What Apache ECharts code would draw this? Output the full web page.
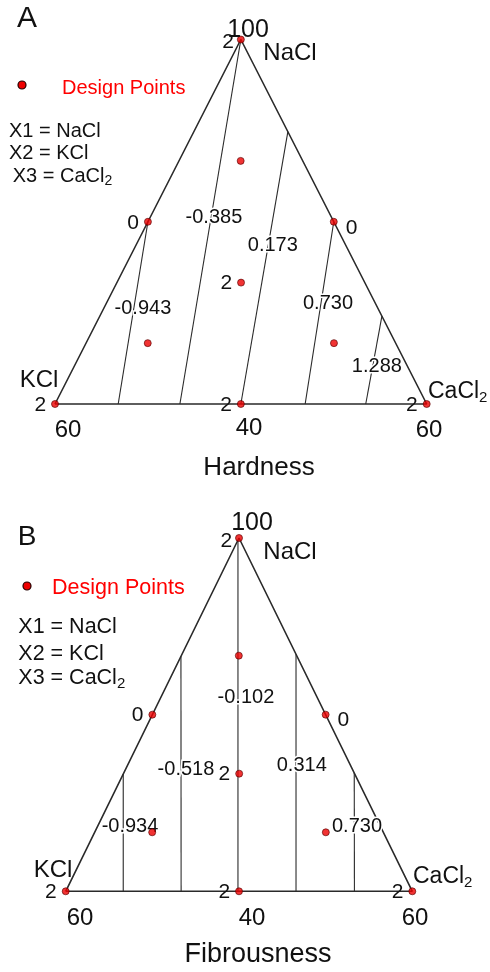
<!DOCTYPE html>
<html><head><meta charset="utf-8">
<script src="https://cdn.jsdelivr.net/npm/echarts@6/dist/echarts.min.js"></script>
<style>html,body{margin:0;padding:0;background:#fff}#c{width:490px;height:972px}</style>
</head><body><div id="c"></div>
<script>
// Mixture components (ternary order: NaCl = X1, KCl = X2, CaCl2 = X3)
const components = ['NaCl', 'KCl', 'CaCl2'];
const panelLetters = ['A', 'B'];
const responseNames = ['Hardness', 'Fibrousness'];
const vertexTicks = ['100', '60', '40', '60'];

// Design points (fractions NaCl, KCl, CaCl2) and their replicate-count labels
const designPoints = [
  [1, 0, 0], [0, 1, 0], [0, 0, 1],
  [0.5, 0.5, 0], [0.5, 0, 0.5], [0, 0.5, 0.5],
  [0.333, 0.333, 0.334],
  [0.667, 0.167, 0.166], [0.167, 0.667, 0.166], [0.167, 0.166, 0.667]
];
const pointCounts = ['2', '2', '2', '0', '0', '2', '2', '', '', ''];

// Panel A – Hardness contours
const hardContourValues = ['-0.943', '-0.385', '0.173', '0.730', '1.288'];
const hardContourStart = [[0.5, 0.5, 0], [1, 0, 0], [0.747, 0, 0.253], [0.5, 0, 0.5], [0.241, 0, 0.759]];
const hardContourEnd = [[0, 0.830, 0.170], [0, 0.664, 0.336], [0, 0.5, 0.5], [0, 0.327, 0.673], [0, 0.164, 0.836]];
const hardLabelPos = [[0.263, 0.632, 0.105], [0.513, 0.316, 0.171], [0.436, 0.196, 0.368], [0.277, 0.127, 0.596], [0.104, 0.082, 0.814]];

// Panel B – Fibrousness contours
const fibContourValues = ['-0.934', '-0.518', '-0.102', '0.314', '0.730'];
const fibContourStart = [[0.332, 0.668, 0], [0.665, 0.335, 0], [0.994, 0.006, 0], [0.671, 0, 0.329], [0.335, 0, 0.665]];
const fibContourEnd = [[0, 0.834, 0.166], [0, 0.667, 0.333], [0, 0.503, 0.497], [0, 0.3355, 0.6645], [0, 0.167, 0.833]];
const fibLabelPos = [[0.183, 0.723, 0.094], [0.345, 0.4805, 0.1745], [0.550, 0.205, 0.245], [0.355, 0.1415, 0.5035], [0.183, 0.068, 0.749]];

// ---------------------------------------------------------------
const FONT = '"Liberation Sans", Arial, Helvetica, sans-serif';
const INK = '#111111';
const LINE = '#2a2a2a';
const RED = '#ee0000';

function tern(p) { return [p[2] + p[0] / 2, p[0]]; }

const grids = [
  { left: 55, top: 39.5, width: 371.7, height: 364.5 },
  { left: 65.7, top: 538, width: 346.6, height: 353.3 }
];

const panels = [
  { vals: hardContourValues, s: hardContourStart, e: hardContourEnd, lp: hardLabelPos },
  { vals: fibContourValues, s: fibContourStart, e: fibContourEnd, lp: fibLabelPos }
];

const series = [];
panels.forEach((P, k) => {
  const ax = { xAxisIndex: k, yAxisIndex: k };
  series.push(Object.assign({
    type: 'line', silent: true, clip: false, symbol: 'none', z: 2,
    lineStyle: { color: LINE, width: 1.6 },
    data: [tern([0, 1, 0]), tern([1, 0, 0]), tern([0, 0, 1]), tern([0, 1, 0])]
  }, ax));
  P.vals.forEach((v, i) => {
    series.push(Object.assign({
      type: 'line', silent: true, clip: false, symbol: 'none', z: 2,
      lineStyle: { color: LINE, width: 1.1 },
      data: [tern(P.s[i]), tern(P.e[i])]
    }, ax));
  });
  series.push(Object.assign({
    type: 'scatter', silent: true, clip: false, symbolSize: 1, z: 3,
    itemStyle: { color: 'rgba(0,0,0,0)' },
    label: {
      show: true, position: 'inside', color: INK, opacity: 1, fontFamily: FONT, fontSize: 20,
      textBorderColor: '#fff', textBorderWidth: 3,
      formatter: p => P.vals[p.dataIndex]
    },
    data: P.lp.map(tern)
  }, ax));
  series.push(Object.assign({
    type: 'scatter', silent: true, clip: false, symbolSize: 7, z: 5,
    itemStyle: { color: RED, borderColor: '#550000', borderWidth: 0.8 },
    data: designPoints.map((p, i) => {
      const lbl = pointCounts[i];
      const rightSide = (p[0] === 0.5 && p[2] === 0.5);
      const isApex = p[0] === 1;
      return {
        value: tern(p),
        label: {
          show: lbl !== '', formatter: lbl, color: INK, opacity: 1, fontFamily: FONT, fontSize: 21,
          position: rightSide ? 'right' : 'left',
          distance: rightSide ? 8 : (isApex ? 3 : 5),
          offset: rightSide ? [0, 6] : (isApex ? [0, 3] : [0, 1])
        }
      };
    })
  }, ax));
});

// text measuring for subscripts
const mctx = document.createElement('canvas').getContext('2d');
function tw(t, size) { mctx.font = size + 'px ' + FONT; return mctx.measureText(t).width; }
function txt(t, x, y, size, opts) {
  opts = opts || {};
  return {
    type: 'text', x: x, y: y, z: 10, silent: true,
    style: {
      text: t, font: size + 'px ' + FONT, fill: opts.fill || INK,
      textAlign: opts.align || 'center', align: opts.align || 'center',
      textVerticalAlign: 'middle', verticalAlign: 'middle'
    }
  };
}
function subTxt(main, sub, x, y, size, subSize, dy) {
  const w = tw(main, size);
  return [txt(main, x, y, size, { align: 'left' }), txt(sub, x + w, y + dy, subSize, { align: 'left' })];
}

const graphics = [];
// Panel A decorations
graphics.push(txt(panelLetters[0], 27, 19, 30));
graphics.push({ type: 'circle', shape: { cx: 22, cy: 85, r: 4 }, style: { fill: RED, stroke: '#220000', lineWidth: 1.2 }, silent: true });
graphics.push(txt('Design Points', 62, 88, 20, { align: 'left', fill: '#ff0000' }));
graphics.push(txt('X1 = ' + components[0], 9, 131.5, 20, { align: 'left' }));
graphics.push(txt('X2 = ' + components[1], 9, 153.5, 20, { align: 'left' }));
graphics.push(...subTxt('X3 = CaCl', '2', 12.7, 176.5, 20, 14, 5));
graphics.push(txt(vertexTicks[0], 248, 30, 25));
graphics.push(txt(components[0], 290, 53, 24));
graphics.push(txt(components[1], 39, 380, 24));
graphics.push(...subTxt('CaCl', '2', 428, 392, 23, 15, 6));
graphics.push(txt(vertexTicks[1], 68, 430, 24));
graphics.push(txt(vertexTicks[2], 249, 428, 24));
graphics.push(txt(vertexTicks[3], 429, 430, 24));
graphics.push(txt(responseNames[0], 259, 468, 26));
// Panel B decorations
graphics.push(txt(panelLetters[1], 27, 537, 28));
graphics.push({ type: 'circle', shape: { cx: 27, cy: 586, r: 4 }, style: { fill: RED, stroke: '#220000', lineWidth: 1.2 }, silent: true });
graphics.push(txt('Design Points', 52, 588, 21.5, { align: 'left', fill: '#ff0000' }));
graphics.push(txt('X1 = ' + components[0], 18.3, 627, 21.5, { align: 'left' }));
graphics.push(txt('X2 = ' + components[1], 18.3, 654, 21.5, { align: 'left' }));
graphics.push(...subTxt('X3 = CaCl', '2', 18.3, 678, 21.5, 15, 6));
graphics.push(txt(vertexTicks[0], 252, 523, 25));
graphics.push(txt(components[0], 290, 552, 24));
graphics.push(txt(components[1], 53, 870, 24));
graphics.push(...subTxt('CaCl', '2', 413, 877, 23, 15, 6));
graphics.push(txt(vertexTicks[1], 80, 918, 24));
graphics.push(txt(vertexTicks[2], 252, 918, 24));
graphics.push(txt(vertexTicks[3], 415, 918, 24));
graphics.push(txt(responseNames[1], 258, 955, 27));

const hiddenAxis = k => ({ type: 'value', min: 0, max: 1, show: false, gridIndex: k });

const chart = echarts.init(document.getElementById('c'), null, { renderer: 'canvas' });
chart.setOption({
  animation: false,
  backgroundColor: '#ffffff',
  grid: grids,
  xAxis: [hiddenAxis(0), hiddenAxis(1)],
  yAxis: [hiddenAxis(0), hiddenAxis(1)],
  series: series,
  graphic: { elements: graphics }
});
</script>
</body></html>
